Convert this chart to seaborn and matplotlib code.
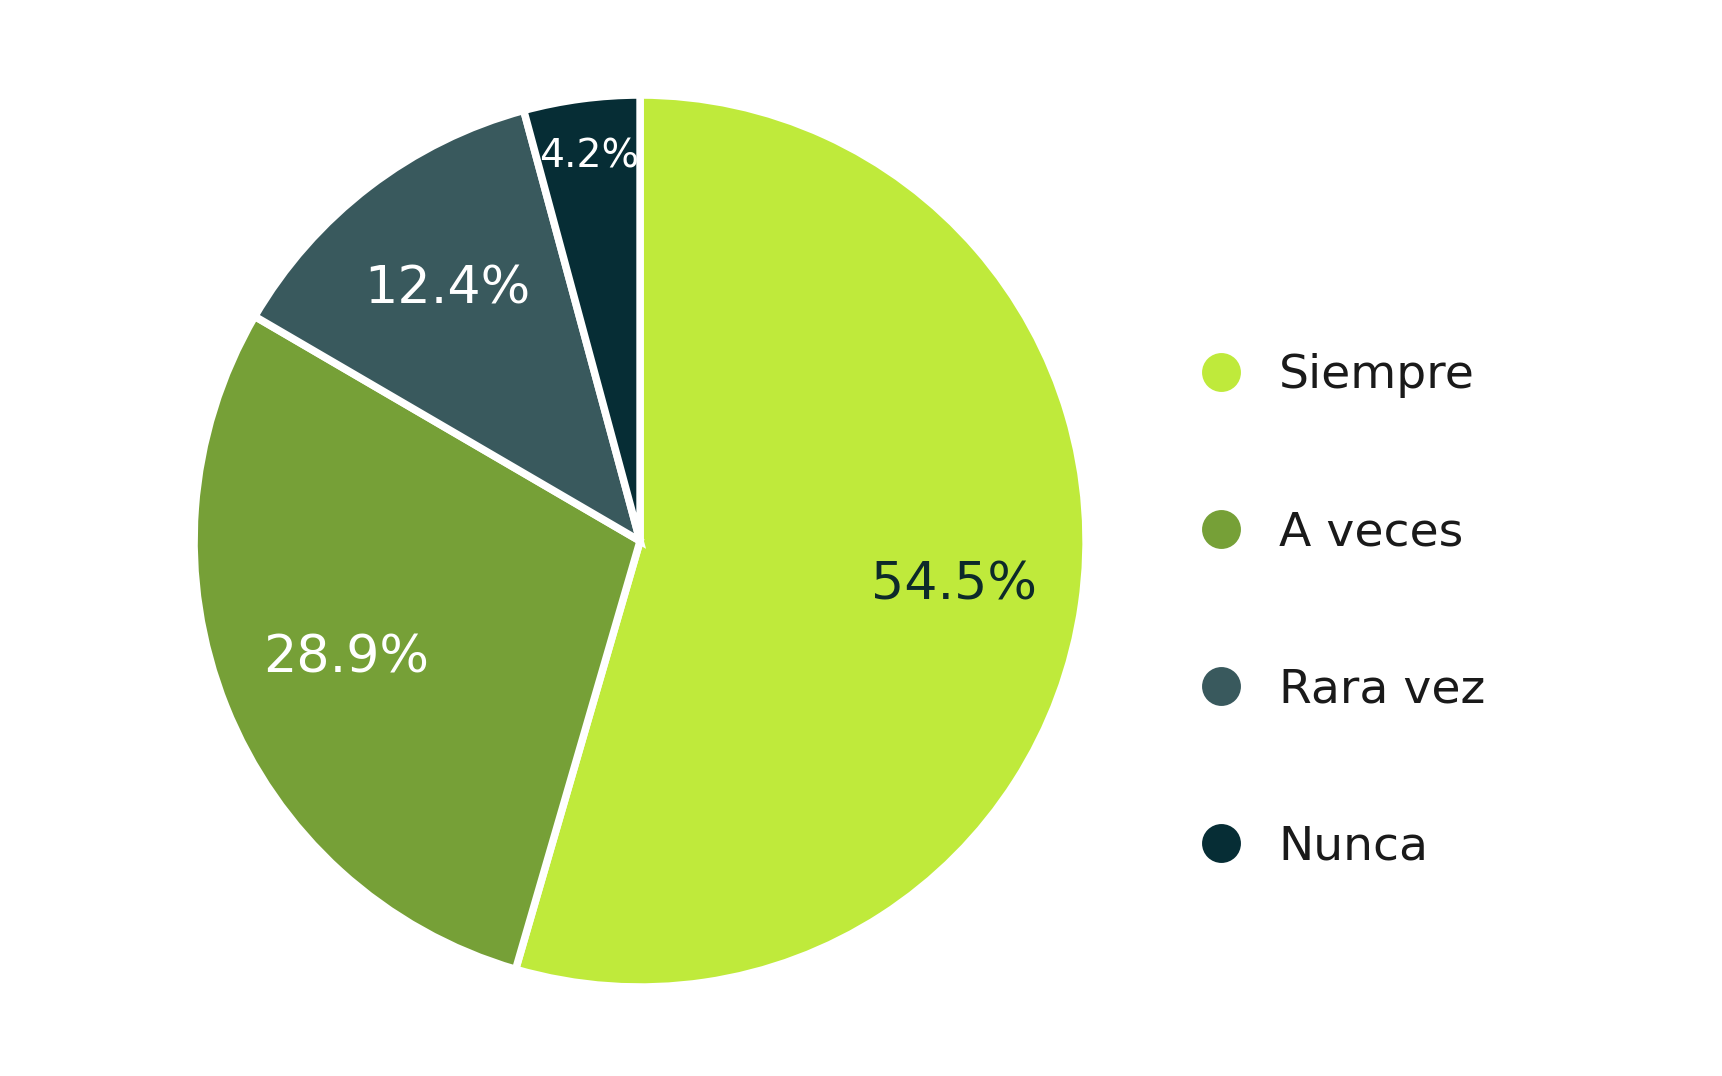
import seaborn as sns
import matplotlib.pyplot as plt
from matplotlib.lines import Line2D

categories = ["Siempre", "A veces", "Rara vez", "Nunca"]
values = [54.5, 28.9, 12.4, 4.2]
colors = ["#bfea3b", "#76a037", "#39595d", "#062d35"]
label_colors = ["#0d2a2a", "white", "white", "white"]


def main() -> None:
    sns.set_theme(style="white")
    plt.rcParams['font.family'] = ['DejaVu Sans']

    fig = plt.figure(figsize=(8.61, 5.38), dpi=200)
    ax = fig.add_axes([0.1127, 0.0827, 0.518, 0.829])

    wedges, texts, autotexts = ax.pie(
        values, colors=colors, startangle=90, counterclock=False,
        autopct='%1.1f%%', pctdistance=0.71,
        wedgeprops={'edgecolor': 'white', 'linewidth': 2.7},
        textprops={'fontsize': 18.8},
    )
    for t, c in zip(autotexts, label_colors):
        t.set_color(c)
    # smallest slice label sits further out and smaller
    autotexts[3].set_fontsize(14.2)
    x, y = autotexts[3].get_position()
    autotexts[3].set_position((x / 0.71 * 0.87, y / 0.71 * 0.87))

    ax.set_xlim(-1, 1)
    ax.set_ylim(-1, 1)
    ax.axis('off')

    handles = [Line2D([], [], marker='o', linestyle='', markersize=13,
                      markerfacecolor=c, markeredgecolor=c) for c in colors]
    fig.legend(handles, categories, loc='center left',
               bbox_to_anchor=(0.657, 0.432), frameon=False,
               fontsize=17, labelspacing=2.37, handletextpad=0.22,
               labelcolor='#1a1a1a')

    fig.savefig('out.png', dpi=200)


if __name__ == "__main__":
    main()
